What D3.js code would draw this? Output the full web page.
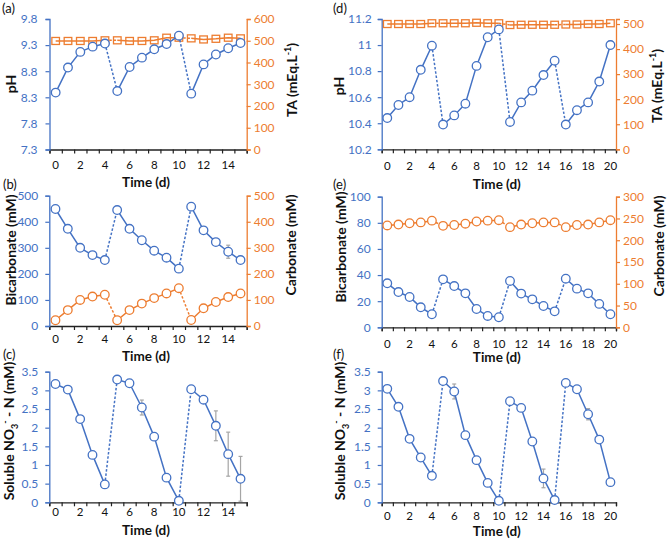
<!DOCTYPE html>
<html><head><meta charset="utf-8">
<script src="https://cdn.jsdelivr.net/npm/d3@7"></script>
<style>body{margin:0;background:#fff}svg{display:block}text{font-family:Lato,"Open Sans",sans-serif}</style>
</head><body><svg id="c" width="667" height="539"></svg>
<script>
// ---- data ----
const days15 = [0,1,2,3,4,5,6,7,8,9,10,11,12,13,14,15];
const days20 = [0,1,2,3,4,5,6,7,8,9,10,11,12,13,14,15,16,17,18,19,20];
const xLabels15 = [0,2,4,6,8,10,12,14];
const xLabels20 = [0,2,4,6,8,10,12,14,16,18,20];
const cycles15 = [[0,4],[5,10],[11,15]];
const cycles20 = [[0,4],[5,10],[11,15],[16,20]];

const pH_a = [8.39,8.87,9.17,9.27,9.33,8.42,8.88,9.06,9.22,9.32,9.48,8.37,8.93,9.12,9.24,9.34];
const pH_a_err = [0,0,0,0,0,0,0,0,0,0,0,0,0.07,0,0.05,0];
const TA_a = [499,499,499,499,502,502,499,499,502,514,514,511,506,509,514,511];
const pH_d = [10.44,10.54,10.60,10.81,10.995,10.39,10.46,10.55,10.84,11.06,11.12,10.41,10.56,10.65,10.77,10.88,10.39,10.50,10.56,10.72,11.0];
const pH_d_err = [0,0.02,0,0,0,0,0,0,0,0,0,0,0,0,0,0,0,0,0,0.03,0.03];
const TA_d = [500,500,500,500,503,503,503,503,505,503,503,496,497,497,497,497,498,498,500,500,503];

const bicarb_b = [449,373,300,272,253,445,373,329,289,262,220,458,367,322,285,253];
const bicarb_b_err = [0,0,0,0,0,0,0,0,0,0,8,0,10,12,25,10];
const carb_b = [22,61,100,113,120,22,61,86,107,125,145,23,68,92,111,125];
const bicarb_e = [33.7,27,23.2,15.3,10,36.7,31.6,26,14,8.7,7.7,35.5,25.8,21.4,16.3,12.2,37.2,29.6,26,17.9,10];
const carb_e = [234,236,239,241,245,233,235,238,243,245,246,230,236,239,241,241,230,235,236,241,246];

const no3_c = [3.17,3.02,2.23,1.27,0.48,3.29,3.19,2.54,1.76,0.66,0.04,3.03,2.75,2.05,1.29,0.63];
const no3_c_err = [0,0,0,0,0,0,0,0.2,0,0,0,0,0.05,0.4,0.59,0.6];
const no3_f = [3.04,2.56,1.70,1.20,0.71,3.25,2.97,1.80,1.13,0.52,0.04,2.71,2.53,1.63,0.64,0.06,3.20,3.03,2.36,1.68,0.54];
const no3_f_err = [0,0,0,0,0,0,0.2,0,0,0,0,0,0,0,0.25,0,0,0,0.15,0,0];

const ticks_pH_a = [7.3,7.8,8.3,8.8,9.3,9.8];
const ticks_TA_a = [0,100,200,300,400,500,600];
const ticks_pH_d = [10.2,10.4,10.6,10.8,11,11.2];
const ticks_TA_d = [0,100,200,300,400,500];
const ticks_b = [0,100,200,300,400,500];
const ticks_e_left = [0,20,40,60,80,100];
const ticks_e_right = [0,50,100,150,200,250,300];
const ticks_no3 = [0,0.5,1,1.5,2,2.5,3,3.5];

const BLUE = "#4472C4", ORANGE = "#ED7D31", GRAY = "#A5A5A5";
const svg = d3.select("#c");

function panel(o){
  const g = svg.append("g");
  const x = d3.scaleLinear().domain([-0.5, o.days.length - 0.5]).range([o.left, o.right]);
  const yL = d3.scaleLinear().domain(o.leftDomain).range([o.bottom, o.top]);
  const yR = o.rightDomain ? d3.scaleLinear().domain(o.rightDomain).range([o.bottom, o.top]) : null;

  // bottom axis
  const halfTicks = o.days.map(d => d - 0.5).concat([o.days.length - 0.5]);
  const ax = g.append("g").attr("transform", `translate(0,${o.bottom})`)
    .call(d3.axisBottom(x).tickValues(halfTicks).tickSize(4).tickFormat(""));
  ax.select(".domain").attr("stroke", "#222").attr("stroke-width", 1.3);
  ax.selectAll(".tick line").attr("stroke", "#222").attr("stroke-width", 1.2);
  g.append("g").selectAll("text").data(o.xLabels).join("text")
    .attr("x", d => x(d)).attr("y", o.bottom + o.xLabOff).attr("text-anchor", "middle")
    .attr("font-size", 11.5).attr("fill", "#111").text(d => d);

  // left axis
  const al = g.append("g").attr("transform", `translate(${o.left},0)`)
    .call(d3.axisLeft(yL).tickValues(o.leftTicks).tickSize(4).tickPadding(o.leftPad || 7).tickFormat(d => d3.format("~g")(d)));
  al.select(".domain").attr("stroke", BLUE).attr("stroke-width", 1.3);
  al.selectAll(".tick line").attr("stroke", BLUE).attr("stroke-width", 1.2);
  al.selectAll(".tick text").attr("fill", BLUE).attr("font-size", 12).attr("font-family", "Lato, sans-serif");

  if (yR) {
    const ar = g.append("g").attr("transform", `translate(${o.right},0)`)
      .call(d3.axisRight(yR).tickValues(o.rightTicks).tickSize(4).tickPadding(3));
    ar.select(".domain").attr("stroke", ORANGE).attr("stroke-width", 1.3);
    ar.selectAll(".tick line").attr("stroke", ORANGE).attr("stroke-width", 1.2);
    ar.selectAll(".tick text").attr("fill", ORANGE).attr("font-size", 12).attr("font-family", "Lato, sans-serif");
  }

  // labels
  g.append("text").attr("x", o.labX).attr("y", o.labY).attr("font-size", 13).attr("fill", "#111").text(o.label);
  g.append("text").attr("x", (o.left + o.right) / 2 - 2).attr("y", o.timeY).attr("text-anchor", "middle")
    .attr("font-size", 13.5).attr("font-weight", "bold").attr("fill", "#111").text("Time (d)");
  o.yTitle(g);

  // series
  function series(vals, y, color, marker, errs) {
    if (errs) {
      g.append("g").selectAll("g").data(o.days.filter((d, i) => errs[i] > 0)).join("g").each(function(d){
        const s = d3.select(this), e = errs[d];
        s.append("line").attr("x1", x(d)).attr("x2", x(d)).attr("y1", y(vals[d] - e)).attr("y2", y(vals[d] + e))
          .attr("stroke", GRAY).attr("stroke-width", 1.2);
        [vals[d] - e, vals[d] + e].forEach(v => s.append("line").attr("x1", x(d) - 2).attr("x2", x(d) + 2)
          .attr("y1", y(v)).attr("y2", y(v)).attr("stroke", GRAY).attr("stroke-width", 1.2));
      });
    }
    const line = d3.line().x(d => x(d)).y(d => y(vals[d]));
    o.cycles.forEach(([a, b], k) => {
      g.append("path").attr("d", line(o.days.slice(a, b + 1))).attr("fill", "none")
        .attr("stroke", color).attr("stroke-width", 1.5);
      if (k < o.cycles.length - 1) {
        const n = o.cycles[k + 1][0];
        g.append("path").attr("d", line([b, n])).attr("fill", "none")
          .attr("stroke", color).attr("stroke-width", 1.5).attr("stroke-dasharray", "2.5,1.8");
      }
    });
    if (marker === "circle") {
      g.append("g").selectAll("circle").data(o.days).join("circle")
        .attr("cx", d => x(d)).attr("cy", d => y(vals[d])).attr("r", 4.3)
        .attr("fill", "#fff").attr("stroke", color).attr("stroke-width", 1.3);
    } else {
      g.append("g").selectAll("rect").data(o.days).join("rect")
        .attr("x", d => x(d) - 3.8).attr("y", d => y(vals[d]) - 3.5).attr("width", 7.6).attr("height", 7)
        .attr("fill", "none").attr("stroke", color).attr("stroke-width", 1.3);
    }
  }
  o.draw(series, yL, yR);
}

function vTitle(g, x, y, parts, size) {
  const t = g.append("text").attr("transform", `translate(${x},${y}) rotate(-90)`)
    .attr("text-anchor", "middle").attr("font-size", size || 14).attr("font-weight", "bold").attr("fill", "#111");
  parts.forEach(p => {
    const ts = t.append("tspan").text(p.t);
    if (p.sup) ts.attr("font-size", 9).attr("dy", -6);
    if (p.sub) ts.attr("font-size", 9).attr("dy", 4);
    if (p.dy) ts.attr("dy", p.dy);
  });
}

// (a)
panel({days: days15, xLabels: xLabels15, cycles: cycles15, left: 49.5, right: 246.7, top: 19, bottom: 149.5,
  leftDomain: [7.3, 9.8], leftTicks: ticks_pH_a, rightDomain: [0, 600], rightTicks: ticks_TA_a, leftPad: 8,
  label: "(a)", labX: 2, labY: 13, timeY: 187, xLabOff: 19.5,
  yTitle: g => { vTitle(g, 16, 84, [{t: "pH"}]); vTitle(g, 297, 80, [{t: "TA (mEq.L"}, {t: "-1", sup: true}, {t: ")", dy: 6}]); },
  draw: (s, yL, yR) => { s(TA_a, yR, ORANGE, "square"); s(pH_a, yL, BLUE, "circle", pH_a_err); }});

// (d)
panel({days: days20, xLabels: xLabels20, cycles: cycles20, left: 381.7, right: 616, top: 19, bottom: 149.3,
  leftDomain: [10.2, 11.2], leftTicks: ticks_pH_d, rightDomain: [0, 520], rightTicks: ticks_TA_d, leftPad: 6,
  label: "(d)", labX: 333, labY: 13, timeY: 188.5, xLabOff: 20.5,
  yTitle: g => { vTitle(g, 344, 86, [{t: "pH"}]); vTitle(g, 662, 86, [{t: "TA (mEq.L"}, {t: "-1", sup: true}, {t: ")", dy: 6}]); },
  draw: (s, yL, yR) => { s(TA_d, yR, ORANGE, "square"); s(pH_d, yL, BLUE, "circle", pH_d_err); }});

// (b)
panel({days: days15, xLabels: xLabels15, cycles: cycles15, left: 49.3, right: 246.7, top: 195.7, bottom: 326,
  leftDomain: [0, 500], leftTicks: ticks_b, rightDomain: [0, 500], rightTicks: ticks_b, leftPad: 7,
  label: "(b)", labX: 3, labY: 189, timeY: 361, xLabOff: 16.5,
  yTitle: g => { vTitle(g, 16, 250, [{t: "Bicarbonate  (mM)"}]); vTitle(g, 296, 245, [{t: "Carbonate (mM)"}]); },
  draw: (s, yL, yR) => { s(carb_b, yR, ORANGE, "circle"); s(bicarb_b, yL, BLUE, "circle", bicarb_b_err); }});

// (e)
panel({days: days20, xLabels: xLabels20, cycles: cycles20, left: 381.7, right: 616, top: 196.7, bottom: 327.3,
  leftDomain: [0, 100], leftTicks: ticks_e_left, rightDomain: [0, 300], rightTicks: ticks_e_right, leftPad: 7,
  label: "(e)", labX: 333, labY: 189, timeY: 362, xLabOff: 21,
  yTitle: g => { vTitle(g, 346, 247, [{t: "Bicarbonate  (mM)"}]); vTitle(g, 664, 246, [{t: "Carbonate (mM)"}]); },
  draw: (s, yL, yR) => { s(carb_e, yR, ORANGE, "circle"); s(bicarb_e, yL, BLUE, "circle"); }});

// (c)
panel({days: days15, xLabels: xLabels15, cycles: cycles15, left: 49.3, right: 246.7, top: 371.7, bottom: 502.3,
  leftDomain: [0, 3.5], leftTicks: ticks_no3, leftPad: 7,
  label: "(c)", labX: 3, labY: 359, timeY: 535, xLabOff: 14,
  yTitle: g => { vTitle(g, 14, 431, [{t: "Soluble NO"}, {t: "3", sub: true}, {t: "-", sup: true, dy: -10}, {t: " - N (mM)", dy: 6}]); },
  draw: (s, yL) => { s(no3_c, yL, BLUE, "circle", no3_c_err); }});

// (f)
panel({days: days20, xLabels: xLabels20, cycles: cycles20, left: 381.7, right: 616, top: 371.7, bottom: 502.3,
  leftDomain: [0, 3.5], leftTicks: ticks_no3, leftPad: 7,
  label: "(f)", labX: 333, labY: 359, timeY: 535.5, xLabOff: 17.5,
  yTitle: g => { vTitle(g, 345, 431, [{t: "Soluble NO"}, {t: "3", sub: true}, {t: "-", sup: true, dy: -10}, {t: " - N (mM)", dy: 6}]); },
  draw: (s, yL) => { s(no3_f, yL, BLUE, "circle", no3_f_err); }});
</script></body></html>
